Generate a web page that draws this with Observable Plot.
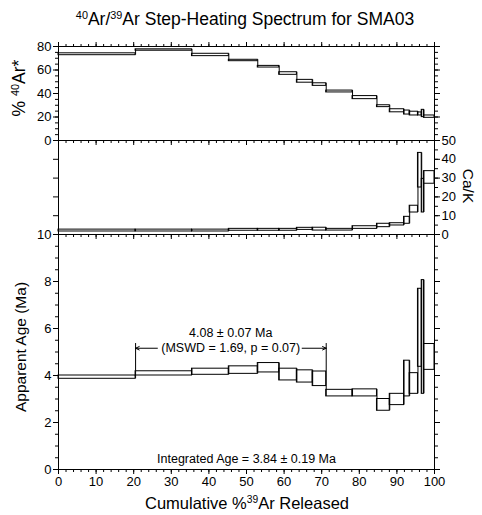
<!DOCTYPE html>
<html><head><meta charset="utf-8">
<script src="https://cdn.jsdelivr.net/npm/d3@7"></script>
<script src="https://cdn.jsdelivr.net/npm/@observablehq/plot@0.6"></script>
<style>
body{margin:0;background:#fff;}
#chart{position:relative;width:482px;height:515px;font-family:"Liberation Sans",Arial,Helvetica,sans-serif;color:#000;overflow:hidden;background:#fff}
#chart svg{position:absolute;left:0;overflow:visible;background:transparent}
.lab{position:absolute;white-space:nowrap;line-height:1;transform:translate(-50%,-50%)}
.rot{transform:translate(-50%,-50%) rotate(-90deg)}
.rot90{transform:translate(-50%,-50%) rotate(90deg)}
sup{font-size:0.62em;vertical-align:0.55em;line-height:0}
</style></head>
<body><div id="chart"></div>
<script>
// ---- data ----
const stepEdges = [0, 20.5, 35.5, 45.3, 53.0, 58.7, 63.4, 67.6, 71.2, 78.2, 84.7, 88.1, 91.9, 93.4, 95.6, 96.6, 97.2, 100];
const radiogenic    = [73.4, 77.0, 72.8, 68.1, 62.8, 57.0, 50.4, 47.6, 41.7, 36.5, 29.2, 25.3, 23.8, 22.9, 22.6, 23.0, 20.3];
const radiogenicErr = [0.8, 0.6, 1.0, 0.6, 0.7, 1.1, 1.2, 1.1, 0.8, 1.3, 0.8, 1.3, 1.7, 1.6, 1.3, 3.1, 1.0];
const caK    = [2.1, 2.1, 2.1, 2.5, 2.5, 2.5, 3.0, 2.85, 2.55, 3.7, 4.8, 5.4, 7.55, 13.5, 34.2, 20.65, 30.35];
const caKErr = [0.5, 0.5, 0.5, 0.5, 0.5, 0.5, 0.55, 0.75, 0.45, 0.7, 0.9, 0.6, 1.85, 1.8, 9.2, 8.95, 3.35];
const ages   = [3.93, 4.09, 4.16, 4.23, 4.33, 4.04, 3.96, 3.86, 3.25, 3.26, 2.75, 2.98, 3.87, 3.66, 6.03, 5.64, 4.79];
const ageErr = [0.07, 0.09, 0.13, 0.16, 0.20, 0.25, 0.26, 0.31, 0.14, 0.15, 0.25, 0.24, 0.76, 0.44, 1.66, 2.42, 0.55];

const xTicks = [0, 10, 20, 30, 40, 50, 60, 70, 80, 90, 100];
const xMinor = d3.range(0, 101, 2);
const radTicks = [0, 20, 40, 60, 80];
const radMinor = d3.range(0, 81, 5);
const caKTicks = [0, 10, 20, 30, 40, 50];
const caKMinor = d3.range(0, 51, 5);
const ageTicks = [0, 2, 4, 6, 8, 10];
const ageMinor = d3.range(0, 10.01, 0.5);

const plateauStartStep = 1, plateauEndStep = 7;
const plateauArrowAge = 5.16;
const plateauLabel = "4.08 ± 0.07 Ma";
const plateauStats = "(MSWD = 1.69, p = 0.07)";
const integratedLabel = "Integrated Age = 3.84 ± 0.19 Ma";

// ---- tables ----
const steps = ages.map((age, i) => ({
  x1: stepEdges[i], x2: stepEdges[i + 1],
  rad: radiogenic[i], radErr: radiogenicErr[i],
  caK: caK[i], caKErr: caKErr[i],
  age, ageErr: ageErr[i]
}));
const pStart = steps[plateauStartStep], pEnd = steps[plateauEndStep];
const plateauEdges = [
  {x: pStart.x1, y1: plateauArrowAge + 0.2, y2: pStart.age + pStart.ageErr},
  {x: pEnd.x2,   y1: plateauArrowAge + 0.2, y2: pEnd.age + pEnd.ageErr}
];
const plateauArrows = [
  {x1: pStart.x1 + 5.8, x2: pStart.x1, y: plateauArrowAge},
  {x1: pEnd.x2 - 6.4,   x2: pEnd.x2,   y: plateauArrowAge}
];
const plateauMid = 45.8;

// ---- helpers ----
const FONT = '"Liberation Sans", Arial, Helvetica, sans-serif';
const box = (v, e) => Plot.rect(steps, {
  x1: "x1", x2: "x2", y1: d => d[v] - d[e], y2: d => d[v] + d[e],
  fill: "none", stroke: "black", strokeWidth: 1
});
// vertical connectors between consecutive steps (staircase)
const connectors = (v, e) => Plot.ruleX(steps.slice(0, -1), {
  x: "x2",
  y1: (d, i) => Math.min(d[v] - d[e], steps[i + 1][v] - steps[i + 1][e]),
  y2: (d, i) => Math.max(d[v] + d[e], steps[i + 1][v] + steps[i + 1][e]),
  stroke: "black", strokeWidth: 1
});
const ticksOnly = (axis, anchor, ticks, size) =>
  axis({anchor, ticks, tickSize: size, tickFormat: () => "", label: null, stroke: "black"});
const labelled = (axis, anchor, ticks) =>
  axis({anchor, ticks, tickSize: 5, tickPadding: 2, label: null, stroke: "black", fill: "black", fontSize: 13});

function panel({top, height, marginTop, marginBottom, domain, marks}) {
  const svg = Plot.plot({
    width: 482, height, marginLeft: 58, marginRight: 48, marginTop, marginBottom,
    x: {domain: [0, 100]},
    y: {domain},
    style: {fontFamily: FONT, fontSize: "13px", background: "transparent", overflow: "visible", color: "black"},
    marks
  });
  svg.style.top = top + "px";
  document.getElementById("chart").appendChild(svg);
}

// ---- top panel: % 40Ar* ----
panel({
  top: 0, height: 150, marginTop: 46, marginBottom: 10, domain: [0, 80],
  marks: [
    ticksOnly(Plot.axisX, "top", xMinor, 3),
    ticksOnly(Plot.axisX, "top", xTicks, 5),
    ticksOnly(Plot.axisX, "bottom", xMinor, 3),
    ticksOnly(Plot.axisX, "bottom", xTicks, 5),
    ticksOnly(Plot.axisY, "left", radMinor, 3),
    labelled(Plot.axisY, "left", radTicks),
    ticksOnly(Plot.axisY, "right", radMinor, 3),
    ticksOnly(Plot.axisY, "right", radTicks, 5),
    box("rad", "radErr"),
    connectors("rad", "radErr"),
    Plot.frame({stroke: "black"})
  ]
});

// ---- middle panel: Ca/K ----
panel({
  top: 130, height: 114, marginTop: 10, marginBottom: 10, domain: [0, 50],
  marks: [
    ticksOnly(Plot.axisX, "bottom", xMinor, 3),
    ticksOnly(Plot.axisX, "bottom", xTicks, 5),
    ticksOnly(Plot.axisY, "left", caKTicks, 5),
    ticksOnly(Plot.axisY, "right", caKMinor, 3),
    labelled(Plot.axisY, "right", caKTicks),
    box("caK", "caKErr"),
    connectors("caK", "caKErr"),
    Plot.frame({stroke: "black"})
  ]
});

// ---- bottom panel: apparent age ----
panel({
  top: 224, height: 291, marginTop: 10, marginBottom: 46, domain: [0, 10],
  marks: [
    ticksOnly(Plot.axisX, "bottom", xMinor, 3),
    labelled(Plot.axisX, "bottom", xTicks),
    ticksOnly(Plot.axisY, "left", ageMinor, 3),
    labelled(Plot.axisY, "left", ageTicks),
    ticksOnly(Plot.axisY, "right", ageMinor, 3),
    ticksOnly(Plot.axisY, "right", ageTicks, 5),
    box("age", "ageErr"),
    connectors("age", "ageErr"),
    Plot.ruleX(plateauEdges, {x: "x", y1: "y1", y2: "y2", stroke: "black", strokeWidth: 1}),
    Plot.arrow(plateauArrows, {x1: "x1", x2: "x2", y1: "y", y2: "y", stroke: "black", strokeWidth: 1, headLength: 6, headAngle: 50}),
    Plot.text([plateauLabel], {text: d => d, x: plateauMid, y: 5.8, fontSize: 12.5, fill: "black"}),
    Plot.text([plateauStats], {text: d => d, x: plateauMid, y: 5.16, fontSize: 12.5, fill: "black"}),
    Plot.text([integratedLabel], {text: d => d, x: 50, y: 0.43, fontSize: 12.5, fill: "black"}),
    Plot.frame({stroke: "black"})
  ]
});

// ---- html labels ----
const chart = document.getElementById("chart");
function addLabel(html, x, y, size, cls = "") {
  const el = document.createElement("div");
  el.className = "lab " + cls;
  el.style.left = x + "px"; el.style.top = y + "px"; el.style.fontSize = size + "px";
  el.innerHTML = html;
  chart.appendChild(el);
}
addLabel("<sup>40</sup>Ar/<sup>39</sup>Ar Step-Heating Spectrum for SMA03", 245, 20, 17.5);
addLabel("% <sup>40</sup>Ar*", 20, 88, 17.5, "rot");
addLabel("Ca/K", 468, 186, 15.5, "rot90");
addLabel("Apparent Age (Ma)", 21, 347, 15.5, "rot");
addLabel("Cumulative %<sup>39</sup>Ar Released", 247, 503, 16.5);
</script>
</body></html>
